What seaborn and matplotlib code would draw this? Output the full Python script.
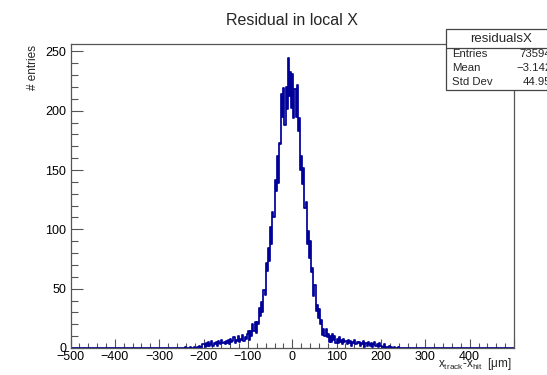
import numpy as np
import pandas as pd
import matplotlib
matplotlib.use("Agg")
import matplotlib.pyplot as plt
from matplotlib.patches import Rectangle
from matplotlib.ticker import MultipleLocator
import seaborn as sns

# ---- data (counts per 2.5 um bin, from -250 to +250 um) ----
tail_left_far = [0, 0, 0, 1, 0, 0, 0, 0, 1, 0, 0, 1, 0, 0, 1, 0, 2, 1, 0, 3]
tail_left_mid = [3, 1, 4, 2, 5, 2, 3, 6, 2, 4, 3, 5, 2, 6, 4, 3, 7, 4, 5, 3]
tail_left_near = [6, 4, 7, 3, 8, 5, 6, 9, 4, 7, 6, 10, 5, 8, 7, 11, 6, 9, 8, 12]
core_left = [14, 7, 14, 10, 20, 14, 22, 13, 22, 20,
             34, 27, 39, 30, 49, 45, 72, 65, 84, 73,
             102, 88, 115, 110, 142, 132, 162, 139, 173, 172,
             214, 195, 219, 188, 220, 201, 244, 212, 233, 202]
core_right = [231, 194, 218, 195, 222, 183, 194, 150, 162, 138,
              152, 118, 123, 88, 99, 76, 90, 64, 67, 44,
              53, 31, 36, 25, 33, 20, 24, 11, 16, 10,
              16, 9, 12, 5, 10, 5, 12, 7, 10, 4]
tail_right_near = [8, 4, 9, 5, 7, 3, 8, 5, 6, 3, 7, 4, 6, 2, 5, 4, 7, 3, 5, 4]
tail_right_mid = [5, 2, 4, 3, 6, 1, 4, 2, 5, 3, 2, 4, 1, 3, 5, 2, 3, 1, 4, 2]
tail_right_far = [2, 0, 1, 3, 0, 1, 0, 2, 0, 1, 0, 0, 1, 0, 0, 1, 0, 0, 0, 0]

x_min, x_max, bin_width = -500.0, 500.0, 2.5
filled_range = (-250.0, 250.0)
x_ticks = [-500, -400, -300, -200, -100, 0, 100, 200, 300, 400, 500]
x_tick_labels = ["\u2212500", "\u2212400", "\u2212300", "\u2212200", "\u2212100",
                 "0", "100", "200", "300", "400", ""]
y_ticks = [0, 50, 100, 150, 200, 250]
y_max = 256.2

stats_name = "residualsX"
stats_rows = [("Entries", "73594"), ("Mean", "\u22123.142"), ("Std Dev", "44.95")]
title = "Residual in local X"
x_title = "x$_{\\mathrm{track}}$-x$_{\\mathrm{hit}}$  [\u03bcm]"
y_title = "# entries"

# ---- assemble histogram ----
inner = np.array(tail_left_far + tail_left_mid + tail_left_near + core_left +
                 core_right + tail_right_near + tail_right_mid + tail_right_far, float)
n_pad = int(round((filled_range[0] - x_min) / bin_width))
counts = np.concatenate([np.zeros(n_pad), inner, np.zeros(n_pad)])
edges = x_min + bin_width * np.arange(len(counts) + 1)
centers = 0.5 * (edges[:-1] + edges[1:])
df = pd.DataFrame({"x": centers, "w": counts})

sns.set_style("white")
plt.rcParams["font.family"] = ["Liberation Sans", "DejaVu Sans"]
plt.rcParams["mathtext.fontset"] = "custom"
plt.rcParams["mathtext.rm"] = "Liberation Sans"
plt.rcParams["mathtext.it"] = "Liberation Sans"

W, H = 547, 375
fig = plt.figure(figsize=(W / 100, H / 100), dpi=100)
ax = fig.add_axes([70.5 / W, (H - 348) / H, (514 - 70.5) / W, (348 - 44) / H])

sns.histplot(data=df, x="x", weights="w", binwidth=bin_width, binrange=(x_min, x_max),
             element="step", fill=False, color="#000099", linewidth=1.25, ax=ax)

ax.set_xlim(x_min, x_max)
ax.set_ylim(0, y_max)
ax.set_xticks(x_ticks)
ax.set_xticklabels(x_tick_labels)
ax.set_yticks(y_ticks)
ax.xaxis.set_minor_locator(MultipleLocator(20))
ax.yaxis.set_minor_locator(MultipleLocator(10))
ax.tick_params(axis="x", which="major", direction="in", length=6.5, width=0.8,
               labelsize=9, pad=2, top=False, bottom=True, colors="#555555",
               labelcolor="black")
ax.tick_params(axis="x", which="minor", direction="in", length=3.5, width=0.8,
               top=False, bottom=True, colors="#555555")
ax.tick_params(axis="y", which="major", direction="in", length=8.5, width=0.8,
               labelsize=9, pad=3, left=True, right=False, colors="#555555",
               labelcolor="black")
ax.tick_params(axis="y", which="minor", direction="in", length=5, width=0.8,
               left=True, right=False, colors="#555555")
for s in ax.spines.values():
    s.set_color("#555555")
    s.set_linewidth(0.9)
ax.set_xlabel("")
ax.set_ylabel("")

fig.text(291.5 / W, 1 - 20.5 / H, title, ha="center", va="center", fontsize=11.5)
fig.text(512 / W, 1 - 367 / H, x_title, ha="right", va="baseline", fontsize=8.5)
fig.text(33 / W, 1 - 45 / H, y_title, ha="center", va="top", rotation=90, fontsize=8.5)

# stats box
bx0, bx1, by0, by1, bmid = 446, 580, 29.3, 90, 48
fig.patches.append(Rectangle((bx0 / W, 1 - by1 / H), (bx1 - bx0) / W, (by1 - by0) / H,
                             transform=fig.transFigure, facecolor="white",
                             edgecolor="#444444", linewidth=0.9, zorder=5))
fig.add_artist(plt.Line2D([bx0 / W, bx1 / W], [1 - bmid / H, 1 - bmid / H],
                          transform=fig.transFigure, color="#444444", linewidth=0.9, zorder=6))
fig.text(501 / W, 1 - 39 / H, stats_name, ha="center", va="center", fontsize=9.5, zorder=7)
row_y = [54, 68.3, 82.3]
for (k, v), yp in zip(stats_rows, row_y):
    yy = 1 - yp / H
    fig.text(452.5 / W, yy, k, ha="left", va="center", fontsize=8.2, zorder=7)
    fig.text(551.5 / W, yy, v, ha="right", va="center", fontsize=8.2, zorder=7)

fig.savefig("out.png", dpi=100)
